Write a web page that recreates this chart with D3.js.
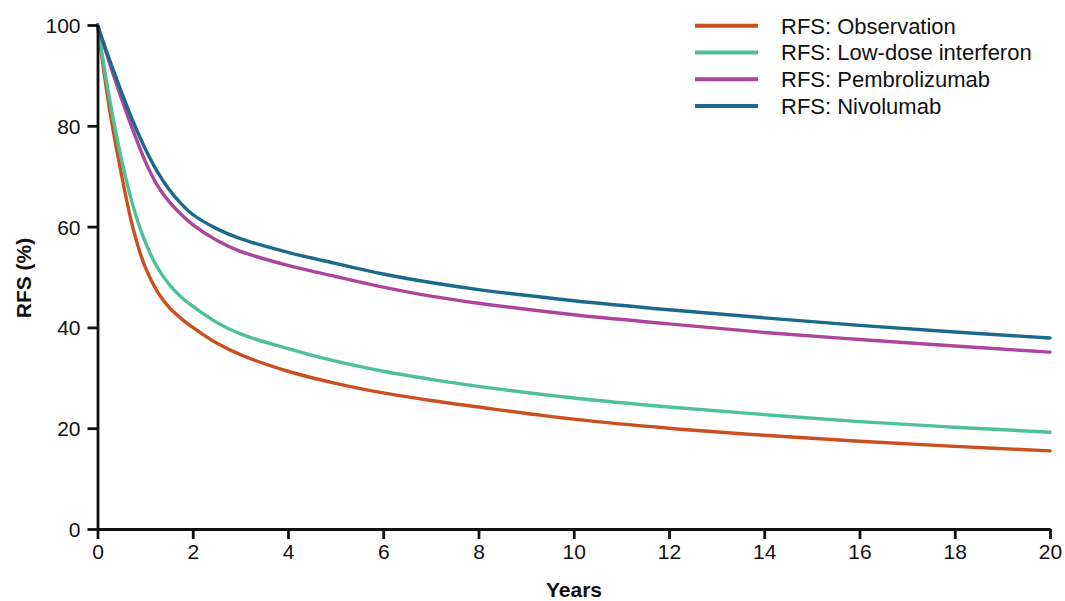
<!DOCTYPE html>
<html>
<head>
<meta charset="utf-8">
<script src="https://cdn.jsdelivr.net/npm/d3@7"></script>
<style>
  html, body { margin: 0; padding: 0; background: #fff; }
  svg { display: block; font-family: "Liberation Sans", Arial, Helvetica, sans-serif; }
</style>
</head>
<body>
<svg id="chart" width="1065" height="601"></svg>
<script>
// ---- Data ----
const years = [0, 0.25, 0.5, 0.75, 1, 1.25, 1.5, 1.75, 2, 2.5, 3, 4, 5, 6, 7, 8, 10, 12, 14, 16, 18, 20];
const observation  = [100, 83.5, 70.5, 59.5, 52, 47.2, 44, 41.8, 40, 36.9, 34.6, 31.3, 28.9, 27, 25.5, 24.2, 21.8, 20.0, 18.6, 17.4, 16.4, 15.5];
const lowDoseIFN   = [100, 85.5, 73.5, 64, 57, 52, 48.6, 46.1, 44.2, 41, 38.7, 35.8, 33.3, 31.3, 29.7, 28.3, 26.0, 24.2, 22.7, 21.3, 20.2, 19.2];
const pembrolizumab= [100, 92.5, 85.5, 79, 73, 68.3, 65, 62.5, 60.4, 57.3, 55.1, 52.3, 50.1, 48.0, 46.2, 44.8, 42.5, 40.7, 39.0, 37.6, 36.3, 35.1];
const nivolumab    = [100, 93.2, 86.8, 80.8, 75.5, 71, 67.4, 64.6, 62.4, 59.6, 57.6, 54.9, 52.7, 50.6, 48.9, 47.5, 45.3, 43.5, 41.9, 40.4, 39.1, 37.9];
const seriesNames  = ["RFS: Observation", "RFS: Low-dose interferon", "RFS: Pembrolizumab", "RFS: Nivolumab"];
const seriesColors = ["#cb5020", "#4fc197", "#ad459d", "#1b6a8c"];
const xTicks = [0, 2, 4, 6, 8, 10, 12, 14, 16, 18, 20];
const yTicks = [0, 20, 40, 60, 80, 100];
const xLabel = "Years";
const yLabel = "RFS (%)";

const allSeries = [observation, lowDoseIFN, pembrolizumab, nivolumab];

// ---- Layout ----
const svg = d3.select("#chart");
const x = d3.scaleLinear().domain([0, 20]).range([97.5, 1050]);
const y = d3.scaleLinear().domain([0, 100]).range([529, 25]);

// Curves (drawn first, axes on top)
const line = d3.line()
  .x((d, i) => x(years[i]))
  .y(d => y(d))
  .curve(d3.curveCatmullRom.alpha(0.5));

svg.append("g").selectAll("path")
  .data(allSeries)
  .join("path")
  .attr("d", d => line(d))
  .attr("fill", "none")
  .attr("stroke", (d, i) => seriesColors[i])
  .attr("stroke-width", 3.4)
  .attr("stroke-linejoin", "round")
  .attr("stroke-linecap", "round");

// Axes
const xAxis = d3.axisBottom(x).tickValues(xTicks).tickSize(10).tickPadding(5).tickSizeOuter(0);
const yAxis = d3.axisLeft(y).tickValues(yTicks).tickSize(10).tickPadding(7).tickSizeOuter(0);

const gx = svg.append("g").attr("transform", "translate(0,529)").call(xAxis);
const gy = svg.append("g").attr("transform", "translate(97.5,0)").call(yAxis);

[gx, gy].forEach(g => {
  g.select(".domain").attr("stroke", "#111").attr("stroke-width", 2.8);
  g.selectAll(".tick line").attr("stroke", "#111").attr("stroke-width", 2.8);
  g.selectAll(".tick text").attr("fill", "#111").attr("font-size", 21)
    .attr("font-family", "'Liberation Sans', Arial, sans-serif");
});
gy.selectAll(".tick text").attr("dy", "0.36em");

// Axis titles
svg.append("text")
  .attr("x", 574).attr("y", 597)
  .attr("text-anchor", "middle")
  .attr("font-size", 21).attr("font-weight", "bold").attr("fill", "#111")
  .text(xLabel);

svg.append("text")
  .attr("transform", "translate(31,278) rotate(-90)")
  .attr("text-anchor", "middle")
  .attr("font-size", 21).attr("font-weight", "bold").attr("fill", "#111")
  .text(yLabel);

// Legend
const legend = svg.append("g");
const legY = d3.scaleLinear().domain([0, 3]).range([25.7, 106]);
seriesNames.forEach((name, i) => {
  legend.append("line")
    .attr("x1", 695).attr("x2", 758)
    .attr("y1", legY(i)).attr("y2", legY(i))
    .attr("stroke", seriesColors[i]).attr("stroke-width", 4);
  legend.append("text")
    .attr("x", 781).attr("y", legY(i))
    .attr("dy", "0.36em")
    .attr("font-size", 22).attr("fill", "#111")
    .text(name);
});
</script>
</body>
</html>
